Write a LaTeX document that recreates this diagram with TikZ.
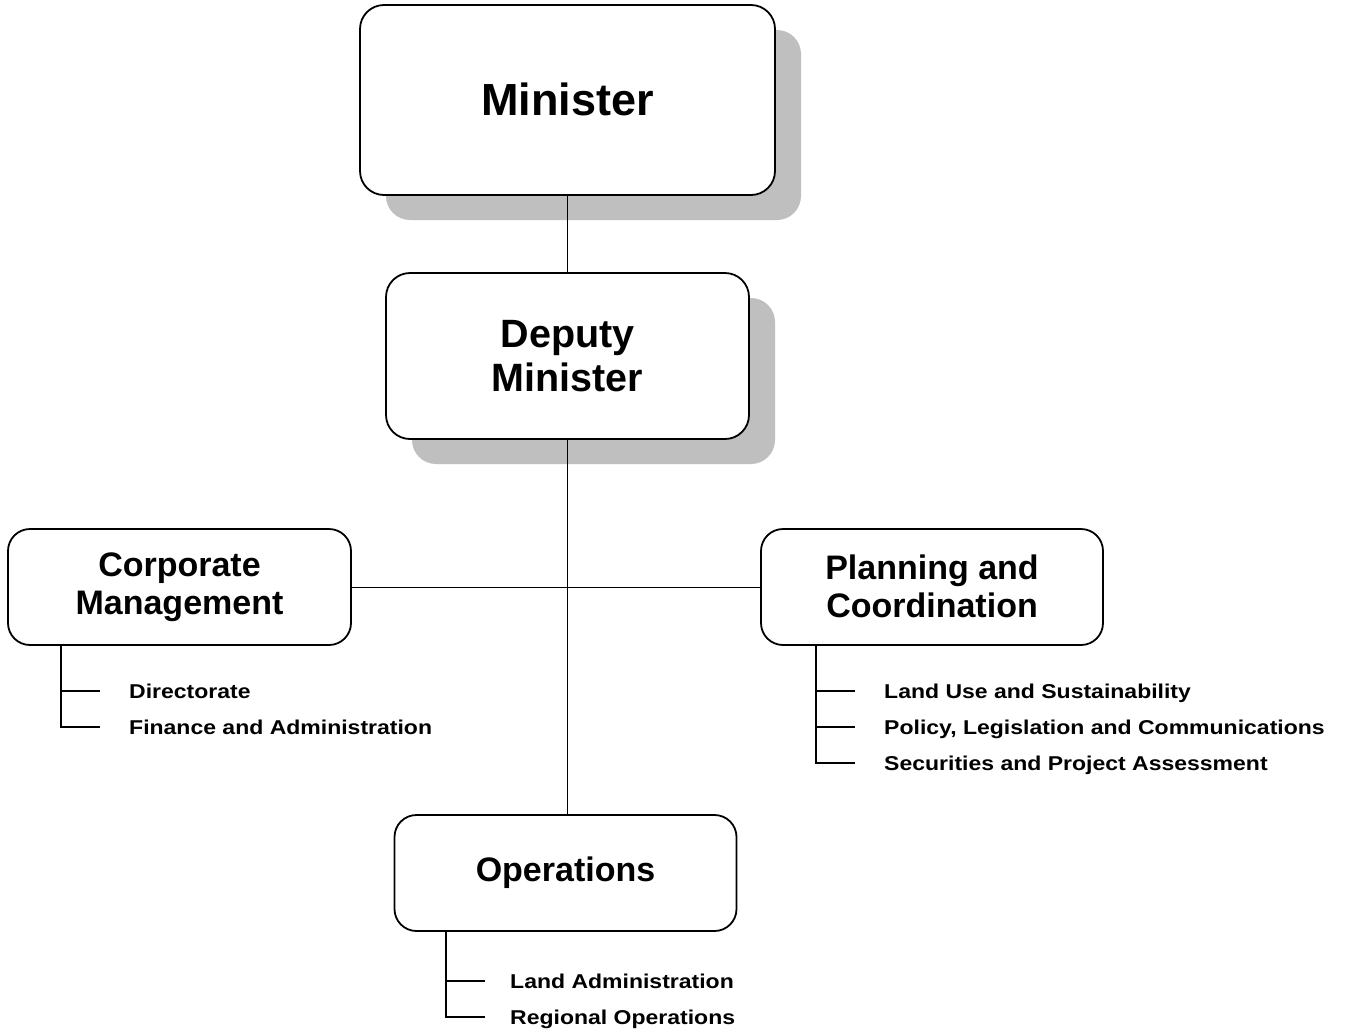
\documentclass[tikz,border=0pt]{standalone}
\usepackage{fontspec}
\usepackage{graphicx}
\setmainfont{Liberation Sans}
\usetikzlibrary{shadows}
\begin{document}
\begin{tikzpicture}[x=1pt,y=-1pt,
  box/.style={draw=black, line width=1.8pt, fill=white, rounded corners=24pt, align=center, inner sep=0pt, font=\bfseries},
  shbox/.style={box, drop shadow={shadow xshift=26pt, shadow yshift=-25pt, fill=black!25, opacity=1}},
  link/.style={draw=black, line width=1pt},
  sub/.style={draw=black, line width=1.4pt},
  subtext/.style={anchor=west, inner sep=0pt, text height=14.3pt, text depth=0pt, font=\bfseries\fontsize{20}{22}\selectfont}
]
\useasboundingbox (0,0) rectangle (1346,1031);
\fill[white] (0,0) rectangle (1346,1031);

\node[shbox, minimum width=415pt, minimum height=190pt, font=\bfseries\fontsize{45}{48}\selectfont] (min) at (567.5,100) {\raisebox{2pt}{Minister}};
\node[shbox, minimum width=363pt, minimum height=166pt, font=\bfseries\fontsize{39.5}{44}\selectfont] (dep) at (567.5,356) {Deputy\\Minister};
\node[box, rounded corners=22pt, minimum width=343pt, minimum height=116pt, font=\bfseries\fontsize{34}{38}\selectfont] (cor) at (179.5,587) {\raisebox{-2pt}{Corporate}\\\raisebox{-2pt}{Management}};
\node[box, rounded corners=22pt, minimum width=342pt, minimum height=116pt, font=\bfseries\fontsize{34}{38}\selectfont] (pla) at (932,587) {\raisebox{2pt}{Planning and}\\\raisebox{2pt}{Coordination}};
\node[box, rounded corners=22pt, minimum width=342pt, minimum height=116pt, font=\bfseries\fontsize{34}{38}\selectfont] (ops) at (565.5,873) {\raisebox{-2pt}{Operations}};

\draw[link] (min.south) -- (dep.north);
\draw[link] (dep.south) -- (dep.south |- ops.north);
\draw[link] (cor.east) -- (pla.west);

% Corporate Management sub-units
\node[subtext] (dir) at (129,691) {\scalebox{1.15}[1]{Directorate}};
\node[subtext] (fin) at (129,727) {\scalebox{1.15}[1]{Finance and Administration}};
\coordinate (ctop) at (61,645);
\draw[sub] (ctop) |- ([xshift=-29pt]fin.west);
\draw[sub] (ctop |- dir.west) -- ([xshift=-29pt]dir.west);

% Planning and Coordination sub-units
\node[subtext] (lus) at (884,691) {\scalebox{1.15}[1]{Land Use and Sustainability}};
\node[subtext] (plc) at (884,727) {\scalebox{1.15}[1]{Policy, Legislation and Communications}};
\node[subtext] (spa) at (884,763) {\scalebox{1.15}[1]{Securities and Project Assessment}};
\coordinate (ptop) at (816,645);
\draw[sub] (ptop) |- ([xshift=-29pt]spa.west);
\draw[sub] (ptop |- lus.west) -- ([xshift=-29pt]lus.west);
\draw[sub] (ptop |- plc.west) -- ([xshift=-29pt]plc.west);

% Operations sub-units
\node[subtext] (lad) at (510,981) {\scalebox{1.15}[1]{Land Administration}};
\node[subtext] (rop) at (510,1017) {\scalebox{1.15}[1]{Regional Operations}};
\coordinate (otop) at (446,931);
\draw[sub] (otop) |- ([xshift=-25pt]rop.west);
\draw[sub] (otop |- lad.west) -- ([xshift=-25pt]lad.west);
\end{tikzpicture}
\end{document}
